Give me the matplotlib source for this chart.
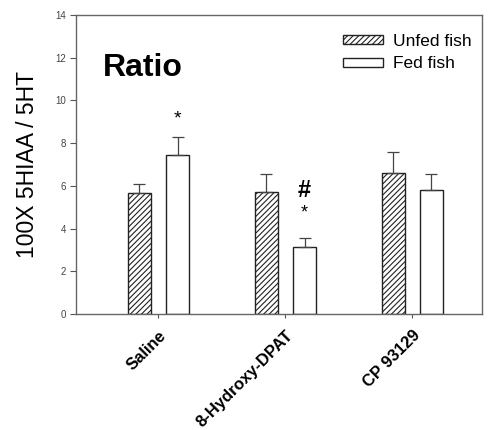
import numpy as np
import matplotlib
matplotlib.use('Agg')
import matplotlib.pyplot as plt

plt.rcParams['font.family'] = ['Liberation Sans', 'DejaVu Sans']
plt.rcParams['hatch.linewidth'] = 0.8

# values
treatments = ['Saline', '8-Hydroxy-DPAT', 'CP 93129']
unfed_mean = [5.65, 5.7, 6.6]
unfed_err = [0.42, 0.84, 1.0]
fed_mean = [7.45, 3.12, 5.8]
fed_err = [0.85, 0.45, 0.77]

fig = plt.figure(figsize=(4.88, 4.30), dpi=100)
ax = fig.add_axes([0.156, 0.270, 0.832, 0.695])

x = np.arange(len(treatments))
width = 0.179
offset = 0.151

edge = '#222222'
ax.bar(x - offset, unfed_mean, width, color='white', edgecolor=edge, hatch='//////',
       linewidth=1.0, label='Unfed fish')
ax.bar(x + offset, fed_mean, width, color='white', edgecolor=edge,
       linewidth=1.0, label='Fed fish')

# upper-only error bars
ax.errorbar(x - offset, unfed_mean, yerr=[np.zeros(3), unfed_err], fmt='none',
            ecolor='#444444', elinewidth=0.9, capsize=4, capthick=0.9)
ax.errorbar(x + offset, fed_mean, yerr=[np.zeros(3), fed_err], fmt='none',
            ecolor='#444444', elinewidth=0.9, capsize=4, capthick=0.9)

# significance marks
ax.text(x[0] + offset, 9.15, '*', ha='center', va='center', fontsize=14)
ax.text(x[1] + offset, 4.75, '*', ha='center', va='center', fontsize=13)
ax.text(x[1] + offset, 5.8, '#', ha='center', va='center', fontsize=17, fontweight='bold')

ax.text(-0.44, 11.5, 'Ratio', fontsize=23, fontweight='bold', ha='left', va='center')

ax.set_xlim(-0.648, 2.55)
ax.set_ylim(0, 14)
ax.set_yticks(np.arange(0, 15, 2))
ax.set_xticks(x)
ax.set_xticklabels(treatments, rotation=45, ha='right', rotation_mode='anchor',
                   fontsize=12, fontweight='bold')
ax.tick_params(axis='y', labelsize=7, labelcolor='#444444', length=4, color='#555555', pad=3)
ax.tick_params(axis='x', length=3, color='#555555', pad=7)
for s in ax.spines.values():
    s.set_color('#666666')
    s.set_linewidth(1.0)

ax.set_ylabel('100X 5HIAA / 5HT', fontsize=16.5, labelpad=12)

ax.legend(loc='upper right', bbox_to_anchor=(1.012, 0.99), frameon=False, fontsize=12.5,
          handlelength=2.3, handleheight=0.45, handletextpad=0.55, labelspacing=0.45)

fig.savefig('out.png', dpi=100)
